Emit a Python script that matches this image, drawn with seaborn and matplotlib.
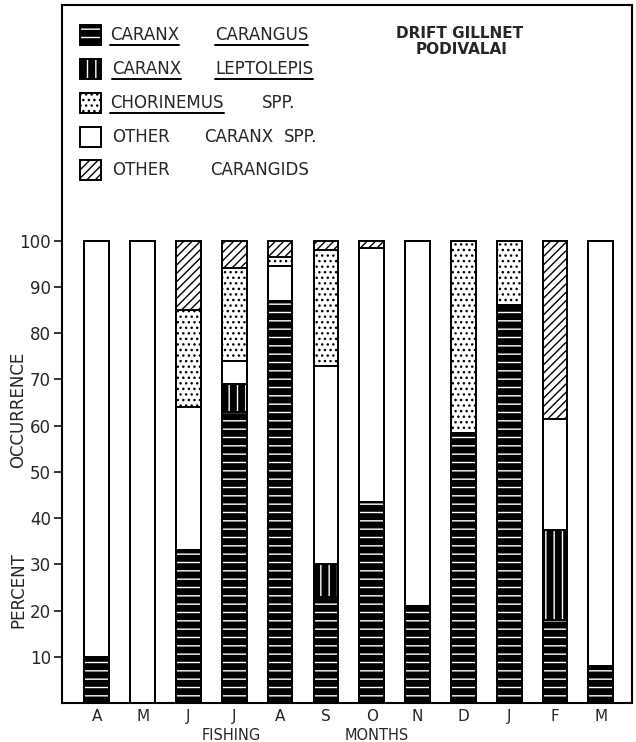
import numpy as np
import pandas as pd
import matplotlib
matplotlib.use("Agg")
import matplotlib.pyplot as plt
import seaborn as sns
from matplotlib.patches import Rectangle

# ---- data (percent occurrence, bottom to top) ----
months = ["Apr", "May", "Jun", "Jul", "Aug", "Sep", "Oct", "Nov", "Dec", "Jan", "Feb", "Mar"]
month_labels = ["A", "M", "J", "J", "A", "S", "O", "N", "D", "J", "F", "M"]
caranx_carangus = [10, 0, 33, 63, 87, 23, 43.5, 21, 58.5, 86, 18, 8]
caranx_leptolepis = [0, 0, 0, 6, 0, 7, 0, 0, 0, 0, 19.5, 0]
other_caranx = [90, 100, 31, 5, 7.5, 43, 55, 79, 0, 0, 24, 92]
chorinemus = [0, 0, 21, 20, 2, 25, 0, 0, 41.5, 14, 0, 0]
other_carangids = [0, 0, 15, 6, 3.5, 2, 1.5, 0, 0, 0, 38.5, 0]
y_ticks = [10, 20, 30, 40, 50, 60, 70, 80, 90, 100]

sns.set_style("ticks")
plt.rcParams["font.family"] = ["DejaVu Sans"]
plt.rcParams["hatch.linewidth"] = 1.0

W, H = 636, 742
fig = plt.figure(figsize=(W / 100, H / 100), dpi=100)
ax = fig.add_axes([62 / W, 39 / H, 570 / W, 698 / H])

layers = [caranx_carangus, caranx_leptolepis, other_caranx, chorinemus, other_carangids]
styles = [
    dict(face="black", hatch="--", hc="white"),
    dict(face="black", hatch="||", hc="white"),
    dict(face="white", hatch=None, hc="black"),
    dict(face="white", hatch="...", hc="black"),
    dict(face="white", hatch="////", hc="black"),
]
cum = np.cumsum(np.array(layers, dtype=float), axis=0)
bw = 0.54

# filled, hatched layers (drawn from the full stack down)
for i in range(len(layers) - 1, -1, -1):
    n0 = len(ax.patches)
    sns.barplot(x=months, y=cum[i], order=months, color="white", saturation=1,
                width=bw, errorbar=None, ax=ax)
    st = styles[i]
    for p in ax.patches[n0:]:
        p.set_facecolor(st["face"])
        p.set_edgecolor(st["hc"])
        p.set_linewidth(0)
        if st["hatch"]:
            p.set_hatch(st["hatch"])

# outlines of every segment boundary
for i in range(len(layers)):
    sns.barplot(x=months, y=cum[i], order=months, color="black", fill=False,
                linewidth=1.4, width=bw, errorbar=None, ax=ax)

ax.set_ylim(0, 151)
ax.set_xlim(-0.76, 11.68)
ax.set_yticks(y_ticks)
ax.set_yticklabels([str(t) for t in y_ticks], fontsize=12)
ax.set_xticks(range(len(months)))
ax.set_xticklabels(month_labels, fontsize=11)
ax.tick_params(axis="y", direction="out", length=6, width=1.3, pad=2)
ax.tick_params(axis="x", length=0, pad=4)
ax.set_xlabel("")
ax.set_ylabel("")
for s in ax.spines.values():
    s.set_linewidth(1.5)
    s.set_color("black")

# ---- legend drawn by hand ----
def ax_x(px):
    return (px - 62) / 570

def ax_y(py):
    return 1 - (py - 5) / 698

legend_order = [0, 1, 3, 2, 4]
rows = [35, 69, 103, 137, 170]
words = [
    [("CARANX", 110, True), ("CARANGUS", 215, True)],
    [("CARANX", 112, True), ("LEPTOLEPIS", 215, True)],
    [("CHORINEMUS", 110, True), ("SPP.", 262, False)],
    [("OTHER", 112, False), ("CARANX", 204, False), ("SPP.", 284, False)],
    [("OTHER", 112, False), ("CARANGIDS", 210, False)],
]
texts = []
for yy, li, wl in zip(rows, legend_order, words):
    st = styles[li]
    x0, x1 = ax_x(80), ax_x(101)
    y0, y1 = ax_y(yy + 10), ax_y(yy - 10)
    ax.add_patch(Rectangle((x0, y0), x1 - x0, y1 - y0, transform=ax.transAxes,
                           facecolor=st["face"], edgecolor=st["hc"], linewidth=0,
                           hatch=st["hatch"]))
    ax.add_patch(Rectangle((x0, y0), x1 - x0, y1 - y0, transform=ax.transAxes,
                           facecolor="none", edgecolor="black", linewidth=1.4))
    for w, px, ul in wl:
        t = ax.text(ax_x(px), ax_y(yy), w, transform=ax.transAxes, fontsize=12,
                    ha="left", va="center")
        texts.append((t, ul))

ax.text(ax_x(460), ax_y(33), "DRIFT GILLNET", transform=ax.transAxes,
        fontsize=11, fontweight="bold", ha="center", va="center")
ax.text(ax_x(462), ax_y(50), "PODIVALAI", transform=ax.transAxes,
        fontsize=11, fontweight="bold", ha="center", va="center")

fig.text(18 / W, 1 - 410 / H, "OCCURRENCE", rotation=90, fontsize=12,
         ha="center", va="center")
fig.text(18 / W, 1 - 590 / H, "PERCENT", rotation=90, fontsize=12,
         ha="center", va="center")
fig.text(231 / W, 1 - 735 / H, "FISHING", fontsize=10.5, ha="center", va="center")
fig.text(377 / W, 1 - 735 / H, "MONTHS", fontsize=10.5, ha="center", va="center")

# underlines
fig.canvas.draw()
inv = ax.transAxes.inverted()
for t, ul in texts:
    if not ul:
        continue
    bb = t.get_window_extent()
    (ax0, ay0), (ax1, ay1) = inv.transform([(bb.x0, bb.y0 - 1), (bb.x1, bb.y0 - 1)])
    ax.plot([ax0, ax1], [ay0, ay1], transform=ax.transAxes, color="black", lw=1.4)

fig.savefig("out.png", dpi=100)
